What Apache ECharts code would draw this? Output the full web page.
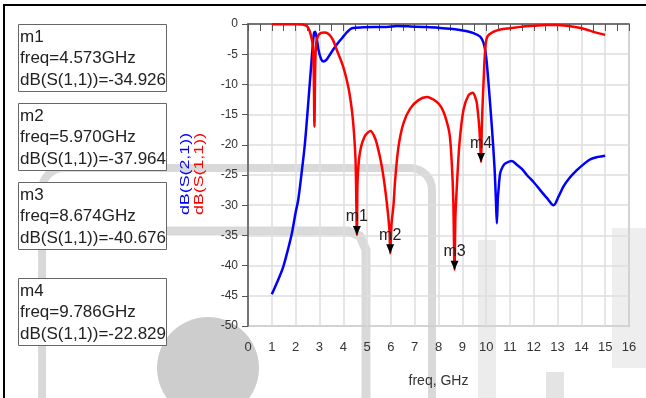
<!DOCTYPE html>
<html>
<head>
<meta charset="utf-8">
<script src="https://cdn.jsdelivr.net/npm/echarts@6/dist/echarts.min.js"></script>
<style>
html, body { margin: 0; padding: 0; background: #fff; }
#chart1 { width: 646px; height: 398px; }
</style>
</head>
<body>
<div id="chart1"></div>
<script>
// S(1,1) red trace
var s11Freq = [1.0, 1.5, 2.0, 2.3, 2.45, 2.55, 2.65, 2.72, 2.76, 2.79, 2.82, 2.86, 2.95, 3.05, 3.2, 3.37, 3.55, 3.73, 4.0, 4.21, 4.36, 4.45, 4.52, 4.573,
	4.6, 4.66, 4.75, 4.9, 5.05, 5.15, 5.28, 5.41, 5.62, 5.8, 5.94, 5.97,
	6.03, 6.11, 6.18, 6.32, 6.53, 6.81, 7.16, 7.51, 7.93, 8.12, 8.28, 8.46, 8.55, 8.62, 8.674,
	8.71, 8.77, 8.88, 9.05, 9.26, 9.44, 9.55, 9.61, 9.71, 9.76, 9.786,
	9.82, 9.86, 9.89, 9.96, 10.05, 10.3, 10.6, 11.0, 11.5, 12.0, 12.5, 12.97, 13.4, 13.8, 14.2, 14.5, 15.0];
var s11Db = [-0.05, -0.05, -0.05, -0.1, -0.3, -0.8, -2.0, -3.5, -8, -17, -8, -3.2, -1.9, -1.5, -1.4, -1.6, -2.5, -4.3, -7.1, -10.4, -14.2, -18, -23, -34.926,
	-26, -22.5, -20.3, -18.6, -17.9, -17.7, -18.4, -19.8, -23.6, -28.6, -34.1, -37.964,
	-33, -30, -25.8, -20.3, -16.4, -14.0, -12.6, -12.1, -12.9, -13.8, -15.3, -18.1, -22.5, -29, -40.676,
	-32, -26.9, -19.8, -14.2, -11.8, -11.4, -12.2, -13.1, -17, -20.5, -22.829,
	-17, -12.5, -9.8, -4.3, -2.1, -1.3, -0.9, -0.7, -0.45, -0.3, -0.15, -0.15, -0.3, -0.55, -0.9, -1.3, -1.8];

// S(2,1) blue trace
var s21Freq = [1.0, 1.25, 1.48, 1.7, 1.84, 2.0, 2.11, 2.25, 2.39, 2.53, 2.67, 2.77, 2.82, 2.88, 2.96, 3.07, 3.16, 3.3, 3.45, 3.6, 3.73, 3.87, 4.0, 4.15, 4.36,
	4.85, 5.3, 5.83, 6.25, 6.8, 7.5, 8.07, 8.5, 8.9, 9.2, 9.47, 9.75, 9.88, 9.96, 10.03, 10.1, 10.24, 10.35, 10.41, 10.45,
	10.49, 10.52, 10.59, 10.7, 10.8, 11.08, 11.29, 11.5, 11.71, 12.0, 12.27, 12.55, 12.83, 13.05, 13.25, 13.5, 13.81, 14.1, 14.37, 14.7, 15.0];
var s21Db = [-44.75, -42.5, -40.2, -37, -34.7, -31.2, -29.1, -24.7, -19.8, -13.1, -6.0, -1.5, -1.3, -2.2, -4.3, -5.8, -6.2, -5.9, -5.0, -4.1, -3.4, -2.7, -2.1, -1.4, -0.7,
	-0.55, -0.5, -0.5, -0.35, -0.4, -0.5, -0.65, -0.8, -1.0, -1.2, -1.5, -2.1, -3.0, -4.3, -6.5, -9.8, -17, -23.6, -29, -33,
	-29, -27.5, -24.7, -23.6, -23.1, -22.7, -23.3, -24, -25, -26.2, -27.5, -28.8, -30.0, -28.5, -26.9, -25.5, -24.2, -23.2, -22.4, -22.0, -21.8];

// markers
var markerNames = ['m1', 'm2', 'm3', 'm4'];
var markerFreq = [4.573, 5.970, 8.674, 9.786];
var markerDb = [-34.926, -37.964, -40.676, -22.829];

var xMin = 0, xMax = 16, xStep = 1;
var yMin = -50, yMax = 0, yStep = 5;

var FONT = '"Liberation Sans", Arial, sans-serif';

function pairs(xs, ys) {
	var out = [];
	for (var i = 0; i < xs.length; i++) {
		out.push([xs[i], ys[i]]);
	}
	return out;
}

var chart = echarts.init(document.getElementById('chart1'));

// marker readout boxes on the left
var boxTops = [24, 103, 182, 278];
var graphics = [];

// faint watermark from the scanned page
var wm = '#d9d9d9';
graphics.push({ type: 'rect', z: -10, silent: true, shape: { x: 42, y: 168, width: 390, height: 400, r: 22 }, style: { fill: null, stroke: wm, lineWidth: 8 } });
graphics.push({ type: 'polyline', z: -10, silent: true, shape: { points: [[99, 231], [348, 231], [360, 236], [366, 250], [366, 400]] }, style: { fill: null, stroke: wm, lineWidth: 9, lineJoin: 'round' } });
graphics.push({ type: 'circle', z: -10, silent: true, shape: { cx: 208, cy: 368, r: 51 }, style: { fill: '#cdcdcd' } });
graphics.push({ type: 'rect', z: -10, silent: true, shape: { x: 478, y: 240, width: 18, height: 160 }, style: { fill: '#ececec' } });
graphics.push({ type: 'rect', z: -10, silent: true, shape: { x: 612, y: 228, width: 34, height: 140 }, style: { fill: '#eeeeee' } });
graphics.push({ type: 'rect', z: -10, silent: true, shape: { x: 546, y: 372, width: 18, height: 30 }, style: { fill: '#e4e4e4' } });

// page frame
graphics.push({ type: 'rect', z: 20, silent: true, shape: { x: 3, y: 4, width: 643, height: 2 }, style: { fill: '#000' } });
graphics.push({ type: 'rect', z: 20, silent: true, shape: { x: 3, y: 4, width: 2, height: 394 }, style: { fill: '#000' } });

for (var i = 0; i < markerNames.length; i++) {
	var boxY = boxTops[i];
	graphics.push({ type: 'rect', z: 20, shape: { x: 18.5, y: boxY + 0.5, width: 148, height: 67 }, style: { fill: '#fff', stroke: '#666', lineWidth: 1 } });
	var lines = [markerNames[i], 'freq=' + markerFreq[i].toFixed(3) + 'GHz', 'dB(S(1,1))=' + markerDb[i].toFixed(3)];
	for (var j = 0; j < lines.length; j++) {
		graphics.push({ type: 'text', z: 21, x: 20, y: boxY + 13 + j * 21.5, style: { text: lines[j], font: '17px ' + FONT, fill: '#222', textVerticalAlign: 'middle' } });
	}
}

// two-colour y axis title
graphics.push({ type: 'text', z: 21, x: 185, y: 174, rotation: Math.PI / 2, scaleX: 1.37, style: { text: 'dB(S(2,1))', font: '13px ' + FONT, fill: '#0000ff', textAlign: 'center', textVerticalAlign: 'middle' } });
graphics.push({ type: 'text', z: 21, x: 199, y: 174, rotation: Math.PI / 2, scaleX: 1.37, style: { text: 'dB(S(1,1))', font: '13px ' + FONT, fill: '#ff0000', textAlign: 'center', textVerticalAlign: 'middle' } });

var markData = [];
for (var k = 0; k < markerNames.length; k++) {
	markData.push({ name: markerNames[k], coord: [markerFreq[k], markerDb[k]] });
}

var option = {
	animation: false,
	backgroundColor: '#fff',
	textStyle: { fontFamily: FONT },
	graphic: graphics,
	grid: {
		show: true,
		left: 248,
		right: 17,
		top: 24,
		bottom: 72,
		borderColor: '#999',
		borderWidth: 1.5
	},
	xAxis: {
		type: 'value',
		min: xMin,
		max: xMax,
		interval: xStep,
		name: 'freq, GHz',
		nameLocation: 'middle',
		nameGap: 48,
		nameTextStyle: { fontSize: 14, color: '#333' },
		axisLine: { lineStyle: { color: '#555', width: 1.5 } },
		axisTick: { length: 7, lineStyle: { color: '#555' } },
		minorTick: { show: true, splitNumber: 2, length: 7, lineStyle: { color: '#555' } },
		axisLabel: { fontSize: 13, color: '#333', margin: 15 },
		splitLine: { show: true, lineStyle: { color: '#dedede', width: 1.5 } }
	},
	yAxis: {
		type: 'value',
		min: yMin,
		max: yMax,
		interval: yStep,
		axisLine: { show: true, lineStyle: { color: '#555', width: 1.5 } },
		axisTick: { show: true, length: 6, lineStyle: { color: '#555' } },
		axisLabel: { fontSize: 12, color: '#333', margin: 10 },
		splitLine: { show: true, lineStyle: { color: '#dedede', width: 1.5 } }
	},
	series: [{
		name: 'dB(S(2,1))',
		type: 'line',
		data: pairs(s21Freq, s21Db),
		showSymbol: false,
		smooth: 0.3,
		lineStyle: { color: '#0000ff', width: 2.5 },
		z: 3
	}, {
		name: 'dB(S(1,1))',
		type: 'line',
		data: pairs(s11Freq, s11Db),
		showSymbol: false,
		smooth: 0.3,
		lineStyle: { color: '#ff0000', width: 2.5 },
		z: 4,
		markPoint: {
			symbol: 'triangle',
			symbolSize: [8, 9],
			symbolRotate: 180,
			symbolOffset: [0, '-50%'],
			itemStyle: { color: '#000' },
			label: { show: true, position: 'top', distance: 1, formatter: '{b}', color: '#222', fontSize: 16 },
			data: markData
		}
	}]
};
chart.setOption(option);
</script>
</body>
</html>
